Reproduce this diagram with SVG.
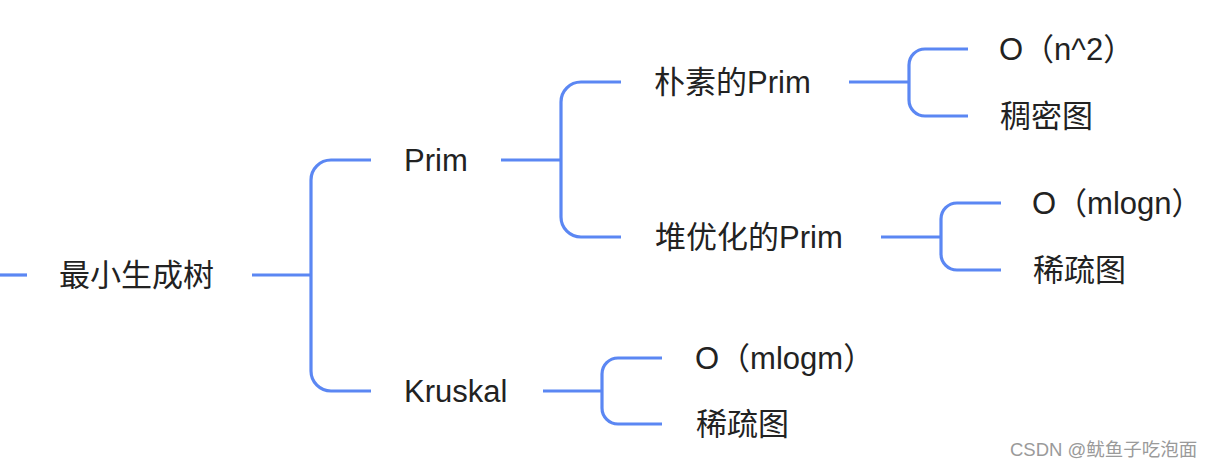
<svg xmlns="http://www.w3.org/2000/svg" width="1214" height="468" viewBox="0 0 1214 468">
<style>
.c{fill:none;stroke:#5b87f3;stroke-width:3.2;stroke-linecap:butt}
.t{font-family:"Liberation Sans","Noto Sans CJK SC",sans-serif;font-size:31px;fill:#222}
.w{font-family:"Liberation Sans","Noto Sans CJK SC",sans-serif;font-size:18.5px;fill:#9a9a9a}
</style>
<rect width="1214" height="468" fill="#fff"/>
<g id="connectors">
<path class="c" d="M0 275H27"/>
<path class="c" d="M252 275H311"/>
<path class="c" d="M371 160H331A20 20 0 0 0 311 180V371A20 20 0 0 0 331 391H371"/>
<path class="c" d="M501 160H561"/>
<path class="c" d="M621 82H581A20 20 0 0 0 561 102V217A20 20 0 0 0 581 237H621"/>
<path class="c" d="M849 82H909"/>
<path class="c" d="M968 49H925A16 16 0 0 0 909 65V100A16 16 0 0 0 925 116H968"/>
<path class="c" d="M881 237H941"/>
<path class="c" d="M1001 203H957A16 16 0 0 0 941 219V254A16 16 0 0 0 957 270H1001"/>
<path class="c" d="M543 391H602"/>
<path class="c" d="M662 358H618A16 16 0 0 0 602 374V408A16 16 0 0 0 618 424H662"/>
</g>
<g id="root"><text class="t" x="59" y="286">最小生成树</text></g>
<g id="prim"><text class="t" x="404" y="171">Prim</text></g>
<g id="kruskal"><text class="t" x="404" y="402">Kruskal</text></g>
<g id="naive-prim"><text class="t" x="654" y="93">朴素的Prim</text></g>
<g id="heap-prim"><text class="t" x="655" y="248">堆优化的Prim</text></g>
<g id="on2"><text class="t" x="999" y="60">O（n^2）</text></g>
<g id="dense"><text class="t" x="1000" y="127">稠密图</text></g>
<g id="omlogn"><text class="t" x="1032" y="214">O（mlogn）</text></g>
<g id="sparse1"><text class="t" x="1033" y="281">稀疏图</text></g>
<g id="omlogm"><text class="t" x="695" y="369">O（mlogm）</text></g>
<g id="sparse2"><text class="t" x="696" y="435">稀疏图</text></g>
<text class="w" x="1010" y="456">CSDN @鱿鱼子吃泡面</text>
</svg>
